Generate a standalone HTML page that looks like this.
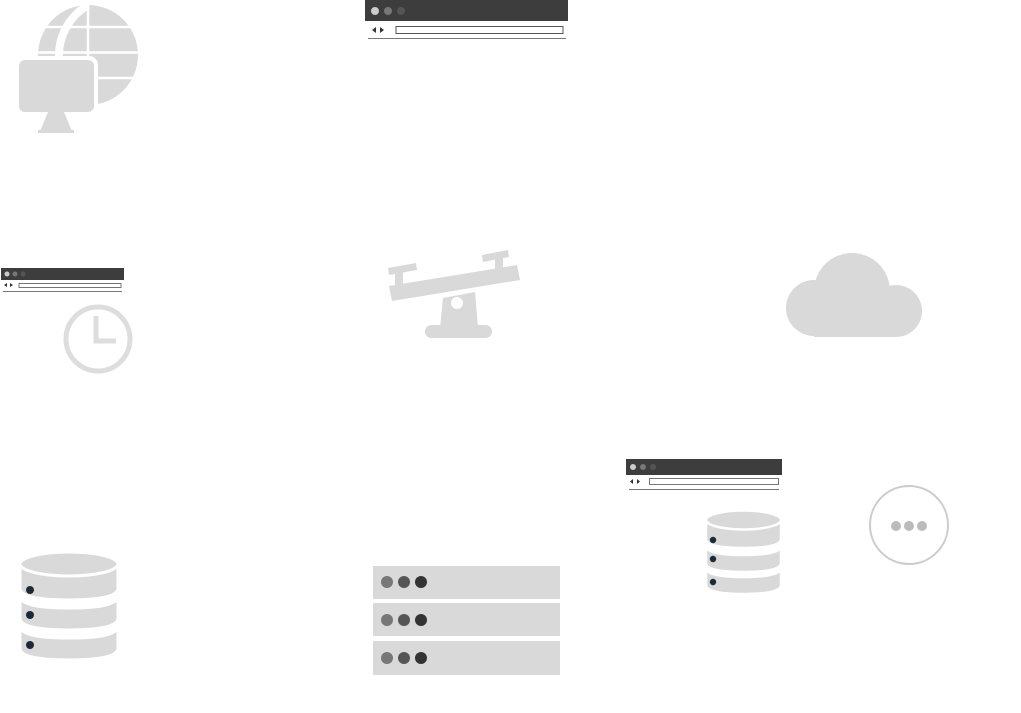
<!DOCTYPE html>
<html><head><style>html,body{margin:0;padding:0;background:#fff;width:1021px;height:713px;overflow:hidden}</style></head>
<body>
<svg width="1021" height="713" viewBox="0 0 1021 713" xmlns="http://www.w3.org/2000/svg">
<!-- globe -->
<circle cx="88" cy="55" r="50" fill="#d9d9d9"/>
<path d="M88 5 C67 18 59 38 59 55 C59 74 67 92 88 105" fill="none" stroke="#fff" stroke-width="8"/>
<g stroke="#fff" stroke-width="2.5" fill="none">
<line x1="30" y1="27" x2="145" y2="27"/><line x1="30" y1="52.5" x2="145" y2="52.5"/><line x1="30" y1="78" x2="145" y2="78"/>
<line x1="88" y1="0" x2="88" y2="110"/>
</g>
<rect x="15" y="56" width="83" height="60" rx="9" fill="#fff"/>
<rect x="19" y="60" width="75" height="52" rx="6" fill="#d9d9d9"/>
<polygon points="48,112 64,112 72,131 40,131" fill="#d9d9d9"/>
<rect x="38" y="130" width="36" height="3" fill="#d9d9d9"/>
<!-- browser top -->
<rect x="365" y="0" width="203" height="21" fill="#3d3d3d"/>
<circle cx="375" cy="11" r="4" fill="#ccc"/><circle cx="388" cy="11" r="4" fill="#777"/><circle cx="401" cy="11" r="4" fill="#555"/>
<polygon points="376,27 376,33 372,30" fill="#333"/><polygon points="380,27 380,33 384,30" fill="#333"/>
<rect x="396" y="26.5" width="167" height="7" fill="#fff" stroke="#555"/>
<line x1="368" y1="38.5" x2="566" y2="38.5" stroke="#777"/>
<!-- browser small -->
<rect x="1" y="268" width="123" height="12" fill="#3d3d3d"/>
<circle cx="7" cy="274" r="2.5" fill="#ccc"/><circle cx="15" cy="274" r="2.5" fill="#777"/><circle cx="23" cy="274" r="2.5" fill="#555"/>
<polygon points="7,283 7,287 4,285" fill="#333"/><polygon points="10,283 10,287 13,285" fill="#333"/>
<rect x="19" y="283.5" width="102" height="4" fill="#fff" stroke="#555" stroke-width="0.8"/>
<line x1="3" y1="291.5" x2="122" y2="291.5" stroke="#777"/>
<!-- clock -->
<circle cx="98" cy="339" r="32" fill="none" stroke="#ddd" stroke-width="5"/>
<path d="M96 316 V341 H116" fill="none" stroke="#ddd" stroke-width="5"/>
<!-- seesaw -->
<g fill="#d9d9d9">
<polygon points="389,286 517,265 520,280 392,301"/>
<polygon points="388,268 416,263 417,270 389,275"/>
<rect x="395" y="271" width="8" height="18"/>
<polygon points="482,255 508,250 509,257 483,262"/>
<rect x="495" y="258" width="8" height="12"/>
<polygon points="443,298 475,292 478,328 440,328"/>
<rect x="425" y="325" width="67" height="13" rx="6.5"/>
</g>
<circle cx="457" cy="303" r="6" fill="#fff"/>
<!-- cloud -->
<g fill="#d9d9d9">
<circle cx="852" cy="291" r="38"/>
<circle cx="814" cy="308" r="28"/>
<circle cx="896" cy="311" r="26"/>
<rect x="814" y="300" width="82" height="37"/>
</g>
<!-- db left -->
<g fill="#d9d9d9" stroke="#fff" stroke-width="3">
<path d="M20 626 v22 q0 12 49 12 q49 0 49 -12 v-22 q0 12 -49 12 q-49 0 -49 -12z"/>
<path d="M20 596 v22 q0 12 49 12 q49 0 49 -12 v-22 q0 12 -49 12 q-49 0 -49 -12z"/>
<path d="M20 566 v22 q0 12 49 12 q49 0 49 -12 v-22z"/>
<ellipse cx="69" cy="564" rx="49" ry="12"/>
</g>
<circle cx="30" cy="590" r="4" fill="#1b2a3a"/><circle cx="30" cy="615" r="4" fill="#1b2a3a"/><circle cx="30" cy="645" r="4" fill="#1b2a3a"/>
<!-- server rows -->
<g fill="#d9d9d9"><rect x="373" y="566" width="187" height="33"/><rect x="373" y="603" width="187" height="33"/><rect x="373" y="641" width="187" height="34"/></g>
<g><circle cx="387" cy="582" r="6" fill="#777"/><circle cx="404" cy="582" r="6" fill="#555"/><circle cx="421" cy="582" r="6" fill="#333"/>
<circle cx="387" cy="620" r="6" fill="#777"/><circle cx="404" cy="620" r="6" fill="#555"/><circle cx="421" cy="620" r="6" fill="#333"/>
<circle cx="387" cy="658" r="6" fill="#777"/><circle cx="404" cy="658" r="6" fill="#555"/><circle cx="421" cy="658" r="6" fill="#333"/></g>
<!-- browser 3 -->
<rect x="626" y="459" width="156" height="16" fill="#3d3d3d"/>
<circle cx="633" cy="467" r="3" fill="#ccc"/><circle cx="643" cy="467" r="3" fill="#777"/><circle cx="653" cy="467" r="3" fill="#555"/>
<polygon points="633,479 633,484 630,481.5" fill="#333"/><polygon points="637,479 637,484 640,481.5" fill="#333"/>
<rect x="649.5" y="478.5" width="129" height="6" fill="#fff" stroke="#555" stroke-width="0.8"/>
<line x1="629" y1="489.5" x2="779" y2="489.5" stroke="#777"/>
<!-- db small -->
<g fill="#d9d9d9" stroke="#fff" stroke-width="2.5">
<path d="M706 568 v17 q0 9 37.5 9 q37.5 0 37.5 -9 v-17 q0 9 -37.5 9 q-37.5 0 -37.5 -9z"/>
<path d="M706 546 v17 q0 9 37.5 9 q37.5 0 37.5 -9 v-17 q0 9 -37.5 9 q-37.5 0 -37.5 -9z"/>
<path d="M706 521 v18 q0 9 37.5 9 q37.5 0 37.5 -9 v-18z"/>
<ellipse cx="743.5" cy="520" rx="37.5" ry="9.5"/>
</g>
<circle cx="713" cy="540" r="3.2" fill="#1b2a3a"/><circle cx="713" cy="559" r="3.2" fill="#1b2a3a"/><circle cx="713" cy="582" r="3.2" fill="#1b2a3a"/>
<!-- ellipsis circle -->
<circle cx="909" cy="525" r="39" fill="none" stroke="#ccc" stroke-width="2"/>
<circle cx="896" cy="526" r="5" fill="#bbb"/><circle cx="909" cy="526" r="5" fill="#bbb"/><circle cx="922" cy="526" r="5" fill="#bbb"/>
</svg>
</body></html>
